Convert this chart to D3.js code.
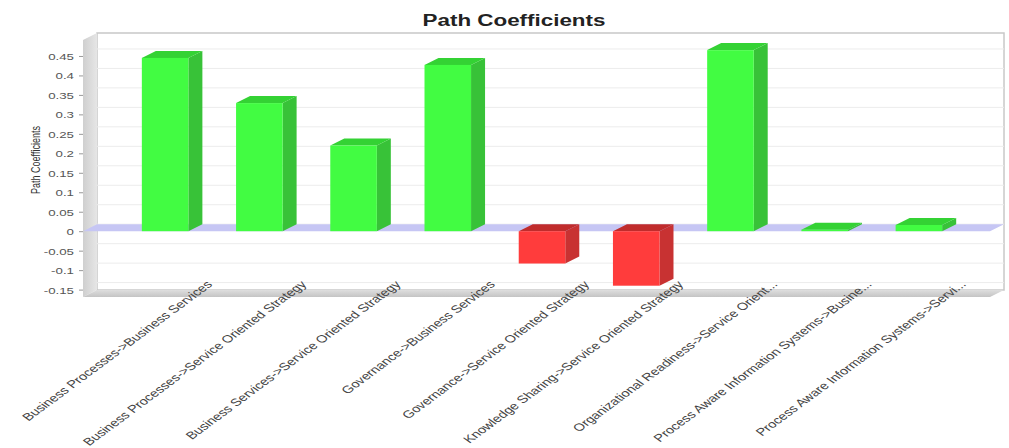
<!DOCTYPE html>
<html>
<head>
<meta charset="utf-8">
<script src="https://cdn.jsdelivr.net/npm/d3@7"></script>
<style>
  body { margin: 0; background: #fff; }
  text { font-family: "Liberation Sans", Arial, sans-serif; }
</style>
</head>
<body>
<div id="chart"></div>
<script>
// data
var categories = [
  "Business Processes->Business Services",
  "Business Processes->Service Oriented Strategy",
  "Business Services->Service Oriented Strategy",
  "Governance->Business Services",
  "Governance->Service Oriented Strategy",
  "Knowledge Sharing->Service Oriented Strategy",
  "Organizational Readiness->Service Orient...",
  "Process Aware Information Systems->Busine...",
  "Process Aware Information Systems->Servi..."
];
var coefficients = [0.445, 0.329, 0.22, 0.427, -0.083, -0.14, 0.465, 0.004, 0.016];
var tickValues = [0.45, 0.4, 0.35, 0.3, 0.25, 0.2, 0.15, 0.1, 0.05, 0, -0.05, -0.1, -0.15];
var tickLabels = ["0.45", "0.4", "0.35", "0.3", "0.25", "0.2", "0.15", "0.1", "0.05", "0", "-0.05", "-0.1", "-0.15"];

var width = 1009, height = 448;
// front plane of the 3d plot, depth offsets
var L = 83, R = 990, T = 40, B = 297;
var dx = 14, dy = 7;
var sx = 1.4; // the original picture is stretched sideways

var svg = d3.select("#chart").append("svg")
    .attr("width", width)
    .attr("height", height);

var y = d3.scaleLinear()
    .domain([-0.169, 0.491])
    .range([B, T]);

var x = d3.scaleBand()
    .domain(categories)
    .range([118, 966])
    .paddingInner(0.506)
    .paddingOuter(0.253);

var defs = svg.append("defs");
var gWall = defs.append("linearGradient").attr("id", "wallGrad")
    .attr("x1", 0).attr("x2", 1).attr("y1", 0).attr("y2", 0);
gWall.append("stop").attr("offset", "0%").attr("stop-color", "#cfcfcf");
gWall.append("stop").attr("offset", "100%").attr("stop-color", "#e6e6e6");
var gFloor = defs.append("linearGradient").attr("id", "floorGrad")
    .attr("x1", 0).attr("x2", 0).attr("y1", 0).attr("y2", 1);
gFloor.append("stop").attr("offset", "0%").attr("stop-color", "#dedede");
gFloor.append("stop").attr("offset", "100%").attr("stop-color", "#c4c4c4");

// back wall
svg.append("rect")
    .attr("x", L + dx).attr("y", T - dy)
    .attr("width", R - L).attr("height", B - T)
    .attr("fill", "#fff")
    .attr("stroke", "#c8c8c8")
    .attr("stroke-width", 1.5);

// gridlines on the back wall
svg.append("g").selectAll("line")
    .data(tickValues)
    .enter()
    .append("line")
    .attr("x1", L + dx).attr("x2", R + dx)
    .attr("y1", function(d) { return y(d) - dy; })
    .attr("y2", function(d) { return y(d) - dy; })
    .attr("stroke", "#ececec")
    .attr("stroke-width", 1);

// left wall
svg.append("polygon")
    .attr("points", [[L, T], [L + dx, T - dy], [L + dx, B - dy], [L, B]].join(" "))
    .attr("fill", "url(#wallGrad)");

// floor
svg.append("polygon")
    .attr("points", [[L, B], [L + dx, B - dy], [R + dx, B - dy], [R, B]].join(" "))
    .attr("fill", "url(#floorGrad)");

// zero marker band
var y0 = y(0);
svg.append("polygon")
    .attr("points", [[L, y0], [L + dx, y0 - dy], [R + dx, y0 - dy], [R, y0]].join(" "))
    .attr("fill", "#c6c6f4");

// bars
var bw = x.bandwidth();
var bars = svg.append("g").selectAll("g")
    .data(categories)
    .enter()
    .append("g");

function colors(i) {
  return coefficients[i] >= 0
    ? {front: "#42fc42", side: "#38c238", top: "#34d234"}
    : {front: "#ff3c3c", side: "#c83232", top: "#c02c2c"};
}

bars.append("polygon")
    .attr("points", function(d, i) {
      var v = coefficients[i], x0 = x(d), x1 = x0 + bw;
      var yt = y(Math.max(v, 0)), yb = y(Math.min(v, 0));
      return [[x1, yt], [x1 + dx, yt - dy], [x1 + dx, yb - dy], [x1, yb]].join(" ");
    })
    .attr("fill", function(d, i) { return colors(i).side; });

bars.append("polygon")
    .attr("points", function(d, i) {
      var v = coefficients[i], x0 = x(d), x1 = x0 + bw;
      var yt = y(Math.max(v, 0));
      return [[x0, yt], [x0 + dx, yt - dy], [x1 + dx, yt - dy], [x1, yt]].join(" ");
    })
    .attr("fill", function(d, i) { return colors(i).top; });

bars.append("rect")
    .attr("x", function(d) { return x(d); })
    .attr("y", function(d, i) { return y(Math.max(coefficients[i], 0)); })
    .attr("width", bw)
    .attr("height", function(d, i) { return Math.abs(y(coefficients[i]) - y(0)); })
    .attr("fill", function(d, i) { return colors(i).front; });

// value axis
var yAxis = d3.axisLeft(y)
    .tickValues(tickValues)
    .tickFormat(function(d, i) { return tickLabels[i]; })
    .tickSize(4)
    .tickPadding(0);

var gy = svg.append("g")
    .attr("transform", "translate(" + L + ",0)")
    .call(yAxis);
gy.select(".domain").remove();
gy.selectAll(".tick line").attr("stroke", "#999");
gy.selectAll(".tick text")
    .attr("x", null).attr("dy", null)
    .attr("transform", "translate(-9,3.5) scale(" + sx + ",1)")
    .attr("text-anchor", "end")
    .style("font-size", "9.5px")
    .attr("fill", "#555");

// category axis
var xAxis = d3.axisBottom(x).tickSize(0).tickPadding(0);
var gx = svg.append("g")
    .attr("transform", "translate(0,285)")
    .call(xAxis);
gx.select(".domain").remove();
gx.selectAll(".tick text")
    .attr("y", null).attr("dy", null)
    .attr("transform", "translate(48,0) scale(" + sx + ",1) rotate(-46)")
    .attr("text-anchor", "end")
    .style("font-size", "10.5px")
    .attr("fill", "#444");

// title
svg.append("text")
    .attr("transform", "translate(514,26) scale(" + sx + ",1)")
    .attr("text-anchor", "middle")
    .style("font-size", "16px")
    .style("font-weight", "bold")
    .attr("fill", "#222")
    .text("Path Coefficients");

// value axis title
svg.append("text")
    .attr("transform", "translate(40,160) scale(" + sx + ",1) rotate(-90)")
    .attr("text-anchor", "middle")
    .style("font-size", "9px")
    .attr("fill", "#333")
    .text("Path Coefficients");
</script>
</body>
</html>
